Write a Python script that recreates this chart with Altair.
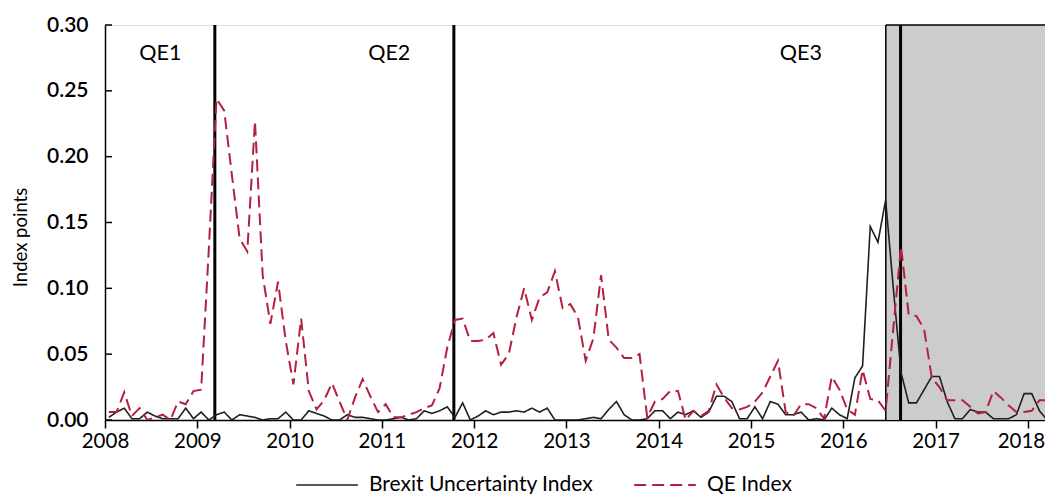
import altair as alt
import pandas as pd

# ---------------- data (monthly, Jan 2008 .. Apr 2018) ----------------
brexit_values = [
    0.002, 0.006, 0.009, 0.001, 0.001, 0.006, 0.003, 0.001, 0.001, 0.001, 0.009, 0.001,  # 2008
    0.006, 0.000, 0.004, 0.006, 0.000, 0.004, 0.003, 0.002, 0.000, 0.001, 0.001, 0.006,  # 2009
    0.000, 0.000, 0.007, 0.005, 0.003, 0.000, 0.000, 0.004, 0.002, 0.002, 0.001, 0.000,  # 2010
    0.000, 0.001, 0.002, 0.000, 0.001, 0.007, 0.005, 0.007, 0.010, 0.002, 0.013, 0.000,  # 2011
    0.003, 0.007, 0.004, 0.006, 0.006, 0.007, 0.006, 0.009, 0.006, 0.009, 0.000, 0.000,  # 2012
    0.000, 0.000, 0.001, 0.002, 0.001, 0.008, 0.014, 0.004, 0.000, 0.000, 0.001, 0.007,  # 2013
    0.007, 0.001, 0.006, 0.004, 0.007, 0.002, 0.006, 0.018, 0.018, 0.014, 0.001, 0.001,  # 2014
    0.010, 0.001, 0.014, 0.012, 0.004, 0.004, 0.006, 0.000, 0.001, 0.000, 0.009, 0.004,  # 2015
    0.001, 0.032, 0.041, 0.147, 0.135, 0.167, 0.100, 0.036, 0.013, 0.013, 0.023, 0.033,  # 2016
    0.033, 0.014, 0.001, 0.001, 0.008, 0.006, 0.006, 0.001, 0.001, 0.001, 0.004, 0.020,  # 2017
    0.020, 0.007, 0.000, 0.000,                                                          # 2018
]
qe_values = [
    0.006, 0.006, 0.021, 0.003, 0.009, 0.000, 0.002, 0.004, 0.000, 0.014, 0.012, 0.022,  # 2008
    0.023, 0.130, 0.244, 0.235, 0.186, 0.138, 0.128, 0.227, 0.110, 0.073, 0.105, 0.060,  # 2009
    0.027, 0.077, 0.022, 0.008, 0.015, 0.028, 0.014, 0.000, 0.017, 0.031, 0.018, 0.006,  # 2010
    0.012, 0.002, 0.002, 0.004, 0.006, 0.009, 0.011, 0.024, 0.055, 0.076, 0.077, 0.060,  # 2011
    0.060, 0.061, 0.066, 0.042, 0.050, 0.078, 0.100, 0.076, 0.093, 0.097, 0.113, 0.085,  # 2012
    0.088, 0.078, 0.045, 0.062, 0.110, 0.061, 0.055, 0.047, 0.047, 0.050, 0.002, 0.014,  # 2013
    0.016, 0.022, 0.022, 0.000, 0.007, 0.003, 0.007, 0.027, 0.017, 0.009, 0.008, 0.010,  # 2014
    0.014, 0.021, 0.033, 0.045, 0.006, 0.003, 0.012, 0.012, 0.009, 0.001, 0.033, 0.023,  # 2015
    0.008, 0.004, 0.038, 0.016, 0.015, 0.007, 0.070, 0.132, 0.080, 0.079, 0.069, 0.032,  # 2016
    0.025, 0.015, 0.015, 0.015, 0.010, 0.005, 0.006, 0.022, 0.017, 0.011, 0.006, 0.006,  # 2017
    0.007, 0.015, 0.015, 0.015,                                                          # 2018
]
start_year = 2008
series_names = ["Brexit Uncertainty Index", "QE Index"]

year_ticks = list(range(2008, 2019))
y_ticks = [0.00, 0.05, 0.10, 0.15, 0.20, 0.25, 0.30]

qe_event_dates = [2009.19, 2011.78, 2016.62]          # QE1, QE2, QE3 announcements
shade_start = [2016.46]                               # Brexit referendum
label_text = ["QE1", "QE2", "QE3"]
label_dates = [2008.60, 2011.08, 2015.54]
label_level = [0.278, 0.278, 0.278]

x_domain = [2008, 2018.185]
y_domain = [0, 0.30]

# ---------------- tables ----------------
months = list(range(len(qe_values)))
t = [start_year + (m + 0.5) / 12 for m in months]
df = pd.DataFrame({
    "t": t * 2,
    "v": brexit_values + qe_values,
    "series": [series_names[0]] * len(t) + [series_names[1]] * len(t),
})
events = pd.DataFrame({"t": qe_event_dates})
shade = pd.DataFrame({"t": shade_start, "t2": [x_domain[1]], "y": [y_domain[0]], "y2": [y_domain[1]]})
labels = pd.DataFrame({"t": label_dates, "v": label_level, "label": label_text})
yt = pd.DataFrame({"v": y_ticks})

FONT = "Lato"
RED = "#b3213f"

x_enc = alt.X(
    "t:Q",
    scale=alt.Scale(domain=x_domain, nice=False, zero=False),
    axis=alt.Axis(
        values=year_ticks, format="d", title=None, grid=False,
        labelFlush=False, labelFont=FONT, labelFontSize=20.5, labelColor="black",
        labelOffset={"condition": {"test": "datum.value == 2018", "value": -7}, "value": 0},
        labelPadding=3, tickSize=8, tickWidth=1.5, tickColor="black",
        domainColor="black", domainWidth=1.5,
    ),
)
y_scale = alt.Scale(domain=y_domain, nice=False, zero=True)
y_enc = alt.Y(
    "v:Q",
    scale=y_scale,
    axis=alt.Axis(
        values=y_ticks, format=".2f", title="Index points", grid=False,
        ticks=False, labelFont=FONT, labelFontSize=21, labelColor="black",
        labelFontWeight=600,
        labelPadding=17, domainColor="black", domainWidth=1.5,
        titleFont=FONT, titleFontSize=18.5, titleFontWeight="normal",
        titleColor="black", titlePadding=16, titleY=212,
    ),
)

rect = alt.Chart(shade).mark_rect(color="#cccccc").encode(
    x=alt.X("t:Q"), x2="t2:Q", y=alt.Y("y:Q"), y2="y2:Q"
)
rect_left = alt.Chart(shade).mark_rule(color="black", strokeWidth=1.5).encode(x="t:Q")
rect_top = alt.Chart(shade).mark_rule(color="black", strokeWidth=1.5).encode(
    x="t:Q", x2="t2:Q", y="y2:Q"
)

vlines = alt.Chart(events).mark_rule(color="black", strokeWidth=3).encode(x="t:Q")

leg = alt.Legend(
    title=None, orient="none", legendX=190, legendY=428, direction="horizontal",
    symbolType="stroke", symbolSize=3800, symbolStrokeWidth=1.6,
    labelFont=FONT, labelFontSize=21, labelColor="black", labelOffset=10,
    labelLimit=0, columnPadding=36,
)
lines = alt.Chart(df).mark_line(clip=True).encode(
    x=x_enc,
    y=y_enc,
    color=alt.Color("series:N", scale=alt.Scale(domain=series_names, range=["#1f1f1f", RED]), legend=leg),
    strokeDash=alt.StrokeDash("series:N", scale=alt.Scale(domain=series_names, range=[[1, 0], [12, 6]]), legend=leg),
    strokeWidth=alt.StrokeWidth("series:N", scale=alt.Scale(domain=series_names, range=[1.6, 2.0]), legend=None),
)

yticks = alt.Chart(yt).mark_rule(color="black", strokeWidth=1.5).encode(
    y="v:Q", x=alt.value(0), x2=alt.value(7)
)

texts = alt.Chart(labels).mark_text(font=FONT, fontSize=21.5, color="black", align="center", baseline="middle").encode(
    x="t:Q", y="v:Q", text="label:N"
)

chart = alt.layer(rect, rect_left, rect_top, vlines, lines, yticks, texts).properties(
    width=940, height=395,
    autosize=alt.AutoSizeParams(type="none"),
    padding={"left": 97, "top": 17, "right": 0, "bottom": 74},
).configure_view(stroke=None).configure(font=FONT)

chart.save("out.html", embed_options={"renderer": "svg", "actions": False})
